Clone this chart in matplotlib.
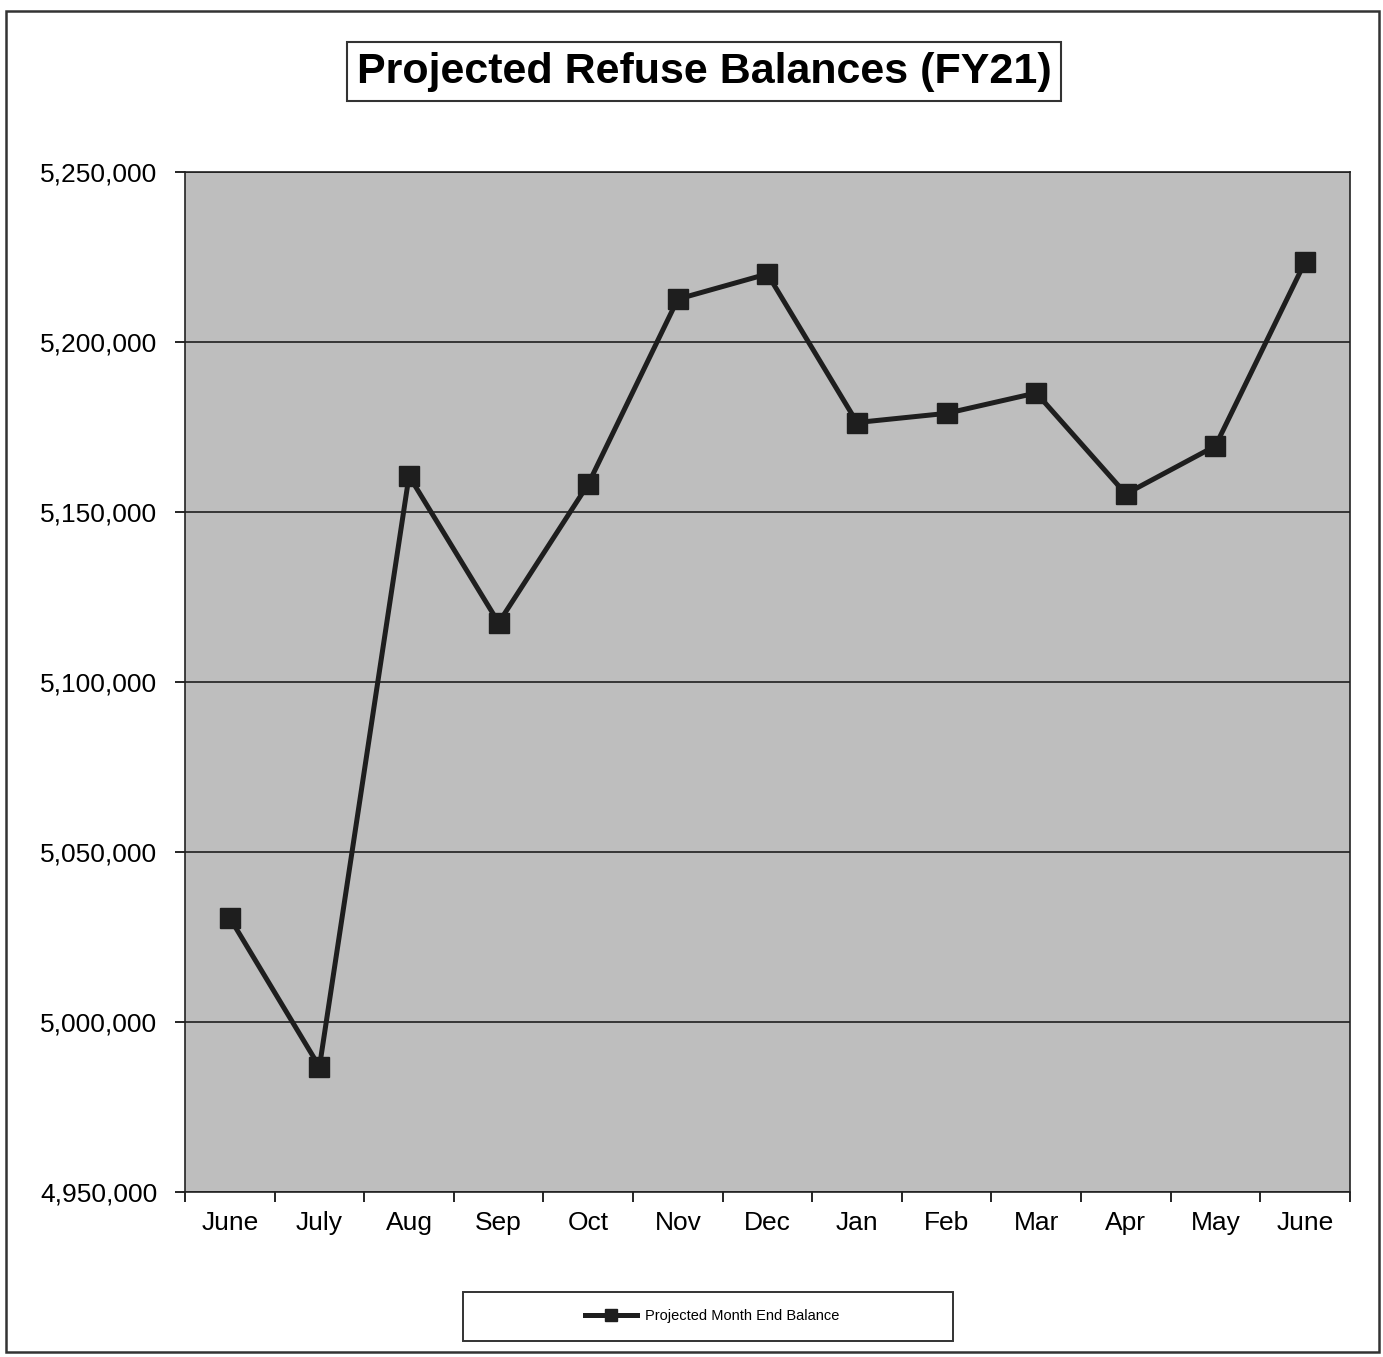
import matplotlib
matplotlib.use("Agg")
import matplotlib.pyplot as plt
from matplotlib.patches import Rectangle
from matplotlib.ticker import FuncFormatter, MultipleLocator

plt.rcParams['font.family'] = ['Liberation Sans', 'DejaVu Sans']

# projected month end balances, FY21
months = ["June", "July", "Aug", "Sep", "Oct", "Nov", "Dec",
          "Jan", "Feb", "Mar", "Apr", "May", "June"]
balances = [5030600, 4986800, 5160600, 5117400, 5158200, 5212600, 5220000,
            5176300, 5179000, 5185000, 5155300, 5169400, 5223500]

W, H = 1383, 1357
fig = plt.figure(figsize=(W / 100, H / 100), dpi=100)

# outer chart border
fig.patches.append(Rectangle((0.004, 0.004), 0.993, 0.988, transform=fig.transFigure,
                             fill=False, edgecolor="#333333", linewidth=1.8))

ax = fig.add_axes([0.1338, 0.1216, 0.8422, 0.7517])
ax.set_facecolor("#bebebe")

x = list(range(len(months)))
ax.plot(x, balances, color="#1e1e1e", linewidth=3.6, marker="s",
        markersize=14, markerfacecolor="#1e1e1e", markeredgecolor="#1e1e1e",
        label="Projected Month End Balance", zorder=3)

ax.set_ylim(4950000, 5250000)
ax.set_xlim(-0.5, len(months) - 0.5)
ax.yaxis.set_major_locator(MultipleLocator(50000))
ax.yaxis.set_major_formatter(FuncFormatter(lambda v, p: f"{int(v):,}"))
ax.grid(axis="y", color="#111111", linewidth=1.1)
ax.set_axisbelow(True)

# category labels centred, ticks on the boundaries
ax.set_xticks(x)
ax.set_xticklabels(months, fontsize=19)
ax.set_xticks([i - 0.5 for i in range(len(months) + 1)], minor=True)
ax.tick_params(axis="x", which="major", length=0, pad=14)
ax.tick_params(axis="x", which="minor", length=7, width=1.2, direction="out")
ax.tick_params(axis="y", length=7, width=1.2, labelsize=19, pad=13)

for side in ["left", "bottom", "top", "right"]:
    ax.spines[side].set_color("#222222")
    ax.spines[side].set_linewidth(1.2)

fig.text(0.509, 0.947, "Projected Refuse Balances (FY21)", fontsize=31,
         fontweight="bold", ha="center", va="center",
         bbox=dict(boxstyle="square,pad=0.22", facecolor="white",
                   edgecolor="#333333", linewidth=1.5))

# legend box
fig.patches.append(Rectangle((463 / W, 1 - 1341 / H), 490 / W, 49 / H,
                             transform=fig.transFigure, fill=False,
                             edgecolor="#333333", linewidth=1.4))
fig.legend(loc="center", bbox_to_anchor=(712 / W, 1 - 1316 / H), fontsize=10.5,
           frameon=False, handlelength=3.6, markerscale=0.6, borderaxespad=0,
           handletextpad=0.5)

fig.savefig("out.png", dpi=100)
